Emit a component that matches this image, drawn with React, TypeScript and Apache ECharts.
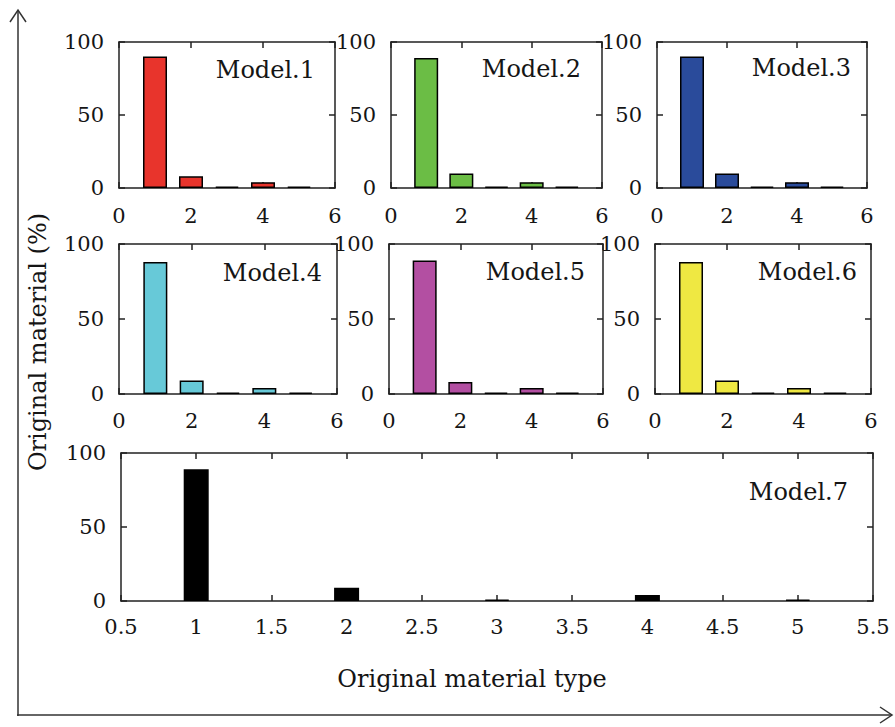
import React, { useEffect, useRef } from "react";
import * as echarts from "echarts";

const materialTypes = [1, 2, 3, 4, 5];
const model1 = [90, 8, 1, 4, 1];
const model2 = [89, 10, 1, 4, 1];
const model3 = [90, 10, 1, 4, 1];
const model4 = [88, 9, 1, 4, 1];
const model5 = [89, 8, 1, 4, 1];
const model6 = [88, 9, 1, 4, 1];
const model7 = [89, 9, 1, 4, 1];
const modelValues = [model1, model2, model3, model4, model5, model6, model7];
const modelNames = ["Model.1", "Model.2", "Model.3", "Model.4", "Model.5", "Model.6", "Model.7"];
const modelColors = ["#e8342c", "#6bbd45", "#2a4b9b", "#67c9d8", "#b34fa2", "#efe842", "#000000"];
const xLabel = "Original material type";
const yLabel = "Original material (%)";

const FONT = "DejaVu Serif";
const TXT = "#151515";
const LINE = "#222222";

// panel layout (pixels)
const panels = [
  { left: 119, top: 42, width: 216, height: 146, xmin: 0, xmax: 6, xint: 2, barW: 24, tx: 315, ty: 70, xm: 17 },
  { left: 391, top: 42, width: 211, height: 146, xmin: 0, xmax: 6, xint: 2, barW: 24, tx: 581, ty: 69, xm: 17 },
  { left: 657, top: 42, width: 210, height: 146, xmin: 0, xmax: 6, xint: 2, barW: 24, tx: 851, ty: 68, xm: 17 },
  { left: 119, top: 244, width: 218, height: 150, xmin: 0, xmax: 6, xint: 2, barW: 24, tx: 322, ty: 273, xm: 16 },
  { left: 389, top: 244, width: 214, height: 150, xmin: 0, xmax: 6, xint: 2, barW: 24, tx: 585, ty: 272, xm: 16 },
  { left: 655, top: 244, width: 216, height: 150, xmin: 0, xmax: 6, xint: 2, barW: 24, tx: 857, ty: 272, xm: 16 },
  { left: 121, top: 453, width: 752, height: 148, xmin: 0.5, xmax: 5.5, xint: 0.5, barW: 25, tx: 848, ty: 492, xm: 15 },
];

export default function App() {
  const ref = useRef<HTMLDivElement>(null);
  useEffect(() => {
    document.body.style.margin = "0";
    if (!ref.current) return;
    const chart = echarts.init(ref.current, null, { renderer: "svg" });

    const grid: any[] = [];
    const xAxis: any[] = [];
    const yAxis: any[] = [];
    const series: any[] = [];
    const graphic: any[] = [];

    panels.forEach((p, i) => {
      grid.push({ left: p.left, top: p.top, width: p.width, height: p.height, containLabel: false });
      const lineStyle = { color: LINE, width: 1.5 };
      xAxis.push({
        type: "value",
        gridIndex: i,
        position: "bottom",
        min: p.xmin,
        max: p.xmax,
        interval: p.xint,
        axisLine: { show: true, onZero: false, lineStyle },
        axisTick: { show: true, inside: true, length: 6, lineStyle },
        axisLabel: { show: true, margin: p.xm, fontFamily: FONT, fontSize: 21, color: TXT },
        splitLine: { show: false },
      });
      xAxis.push({
        type: "value",
        gridIndex: i,
        position: "top",
        min: p.xmin,
        max: p.xmax,
        interval: p.xint,
        axisLine: { show: true, onZero: false, lineStyle },
        axisTick: { show: true, inside: true, length: 6, lineStyle },
        axisLabel: { show: false },
        splitLine: { show: false },
      });
      yAxis.push({
        type: "value",
        gridIndex: i,
        position: "left",
        min: 0,
        max: 100,
        interval: 50,
        axisLine: { show: true, onZero: false, lineStyle },
        axisTick: { show: true, inside: true, length: 6, lineStyle },
        axisLabel: { show: true, margin: 15, fontFamily: FONT, fontSize: 21, color: TXT },
        splitLine: { show: false },
      });
      yAxis.push({
        type: "value",
        gridIndex: i,
        position: "right",
        min: 0,
        max: 100,
        interval: 50,
        axisLine: { show: true, onZero: false, lineStyle },
        axisTick: { show: true, inside: true, length: 6, lineStyle },
        axisLabel: { show: false },
        splitLine: { show: false },
      });
      series.push({
        type: "bar",
        name: modelNames[i],
        xAxisIndex: 2 * i,
        yAxisIndex: 2 * i,
        barWidth: p.barW,
        data: materialTypes.map((t, k) => [t, modelValues[i][k]]),
        itemStyle: {
          color: modelColors[i],
          borderColor: "#000",
          borderWidth: 1.5,
        },
      });
      graphic.push({
        type: "text",
        x: p.tx,
        y: p.ty,
        style: {
          text: modelNames[i],
          fontFamily: FONT,
          fontSize: 24,
          fill: TXT,
          textAlign: "right",
          textVerticalAlign: "middle",
        },
      });
    });

    // outer axes with arrows
    graphic.push({ type: "line", shape: { x1: 18, y1: 716, x2: 18, y2: 10 }, style: { stroke: "#333", lineWidth: 1.5 } });
    graphic.push({ type: "polyline", shape: { points: [[10, 22], [18, 10], [26, 22]] }, style: { stroke: "#333", lineWidth: 1.5, fill: null } });
    graphic.push({ type: "line", shape: { x1: 17, y1: 715, x2: 892, y2: 715 }, style: { stroke: "#333", lineWidth: 1.5 } });
    graphic.push({ type: "polyline", shape: { points: [[880, 707], [892, 715], [880, 723]] }, style: { stroke: "#333", lineWidth: 1.5, fill: null } });
    graphic.push({
      type: "text",
      x: 472,
      y: 679,
      style: { text: xLabel, fontFamily: FONT, fontSize: 24, fill: TXT, textAlign: "center", textVerticalAlign: "middle" },
    });
    graphic.push({
      type: "text",
      x: 38,
      y: 342,
      rotation: Math.PI / 2,
      style: { text: yLabel, fontFamily: FONT, fontSize: 24, fill: TXT, textAlign: "center", textVerticalAlign: "middle" },
    });

    chart.setOption({
      animation: false,
      backgroundColor: "#ffffff",
      grid,
      xAxis,
      yAxis,
      series,
      graphic,
    });
    return () => chart.dispose();
  }, []);
  return <div ref={ref} style={{ position: "absolute", left: 0, top: 0, width: 895, height: 727 }} />;
}
